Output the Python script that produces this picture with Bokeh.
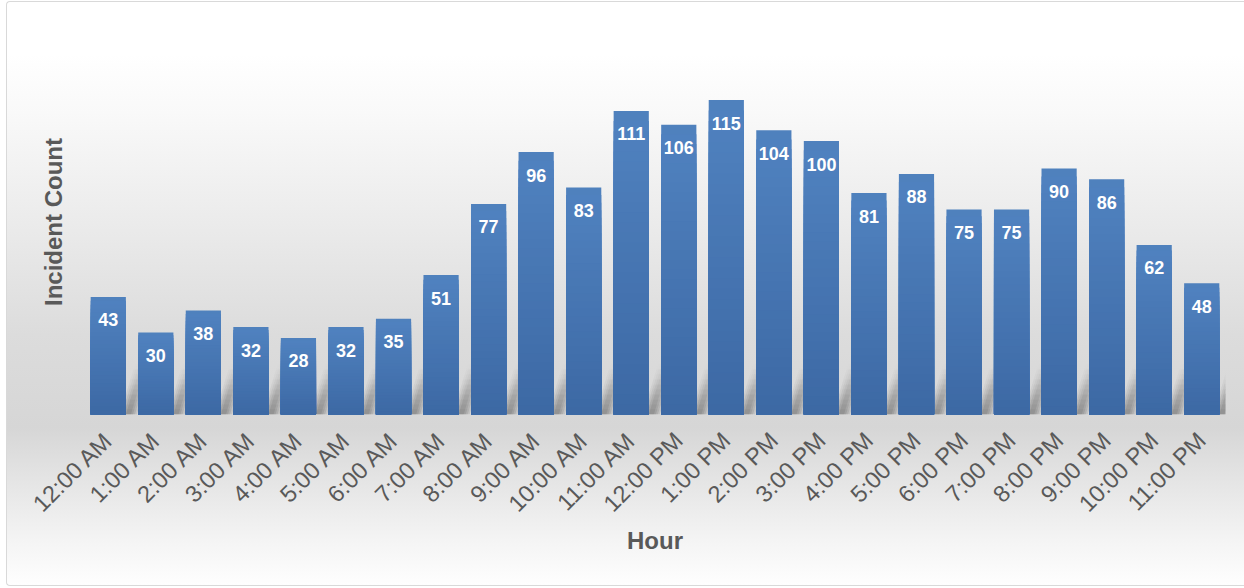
import numpy as np
from bokeh.plotting import figure
from bokeh.models import ColumnDataSource, FixedTicker, Range1d
from bokeh.core.properties import value
from bokeh.embed import file_html
from bokeh.resources import INLINE

# Incidents by hour of day
hours = ["12:00 AM", "1:00 AM", "2:00 AM", "3:00 AM", "4:00 AM", "5:00 AM",
         "6:00 AM", "7:00 AM", "8:00 AM", "9:00 AM", "10:00 AM", "11:00 AM",
         "12:00 PM", "1:00 PM", "2:00 PM", "3:00 PM", "4:00 PM", "5:00 PM",
         "6:00 PM", "7:00 PM", "8:00 PM", "9:00 PM", "10:00 PM", "11:00 PM"]
incidents = [43, 30, 38, 32, 28, 32, 35, 51, 77, 96, 83, 111,
             106, 115, 104, 100, 81, 88, 75, 75, 90, 86, 62, 48]

FONT = "Liberation Sans"
TEXT_GREY = "#595959"
BAR_TOP = np.array([80, 130, 192])
BAR_BOTTOM = np.array([60, 104, 163])
BAR_WIDTH = 0.74
Y_MAX = 140.8

idx = list(range(len(hours)))

p = figure(
    width=1238, height=585,
    x_range=Range1d(-0.5, len(hours) - 0.5),
    y_range=Range1d(0, Y_MAX),
    output_backend="svg", toolbar_location=None,
    min_border_left=77, min_border_right=20,
    min_border_top=27, min_border_bottom=173,
    styles={
        "background": "linear-gradient(to bottom, #ffffff 0%, #ffffff 9%, "
                      "#f9f9f9 19%, #ebebeb 38%, #dcdcdc 57%, #d6d6d6 73%, "
                      "#e6e6e6 83%, #f5f5f5 93%, #fefefe 100%)",
        "border": "1px solid #d9d9d9",
        "border-right": "none",
        "border-radius": "4px 0 0 4px",
        "margin-left": "6px",
        "margin-top": "1px",
        "box-sizing": "border-box",
    },
)
p.background_fill_alpha = 0
p.border_fill_alpha = 0
p.outline_line_color = None
p.xgrid.grid_line_color = None
p.ygrid.grid_line_color = None

# soft perspective shadows: a diagonal streak off each bar's right edge,
# fading with height and widened in layers to look blurred
px_x = 1.0 / 47.5
px_y = 1.0 / 2.728
SLOPE = 0.3
for layer in range(4):
    e = layer * 2.0
    for seg in range(10):
        y0 = seg * 5.0
        y1 = y0 + 5.0
        alpha = 0.15 * (1 - seg / 10.0) ** 1.2
        xs_l, ys_l = [], []
        for i in idx:
            r = i + BAR_WIDTH / 2
            xs_l.append([r + (-e + SLOPE * y0) * px_x,
                         r + (5 + e + SLOPE * y0) * px_x,
                         r + (5 + e + SLOPE * y1) * px_x,
                         r + (-e + SLOPE * y1) * px_x])
            ys_l.append([y0 * px_y, y0 * px_y, y1 * px_y, y1 * px_y])
        p.patches(xs_l, ys_l, fill_color="#4a4a4a", fill_alpha=alpha,
                  line_color=None)

# bars: full-value bar, then stacked overlays that shade toward the base
p.vbar(x=idx, top=incidents, width=BAR_WIDTH, fill_color="#4f81bd",
       line_color=None)
N = 30
sx, stop, scol = [], [], []
for k in range(1, N):
    frac = 1 - k / N
    c = BAR_BOTTOM + (BAR_TOP - BAR_BOTTOM) * frac
    col = "#%02x%02x%02x" % tuple(int(round(v)) for v in c)
    for i, v in zip(idx, incidents):
        sx.append(i)
        stop.append(v * frac)
        scol.append(col)
p.vbar(x="x", top="top", width=BAR_WIDTH, fill_color="c", line_color=None,
       source=ColumnDataSource(dict(x=sx, top=stop, c=scol)))

# value labels inside the top of each bar
p.text(x=idx, y=incidents, text=[str(v) for v in incidents],
       text_align="center", text_baseline="middle", y_offset=23,
       text_color="white", text_font=value(FONT), text_font_style="bold",
       text_font_size="18px")

xa = p.xaxis[0]
xa.ticker = FixedTicker(ticks=idx)
xa.major_label_overrides = {i: h for i, h in zip(idx, hours)}
xa.major_label_orientation = np.pi / 4
xa.major_label_text_font = FONT
xa.major_label_text_font_size = "23.5px"
xa.major_label_text_color = TEXT_GREY
xa.major_label_standoff = 16
xa.major_tick_line_color = None
xa.minor_tick_line_color = None
xa.axis_line_color = None
xa.axis_label = "Hour"
xa.axis_label_text_font = FONT
xa.axis_label_text_font_size = "24px"
xa.axis_label_text_font_style = "bold"
xa.axis_label_text_color = TEXT_GREY
xa.axis_label_standoff = -2

ya = p.yaxis[0]
ya.ticker = FixedTicker(ticks=[])
ya.major_label_text_font_size = "0px"
ya.major_tick_line_color = None
ya.minor_tick_line_color = None
ya.axis_line_color = None
ya.axis_label = "Incident Count"
ya.axis_label_text_font = FONT
ya.axis_label_text_font_size = "24px"
ya.axis_label_text_font_style = "bold"
ya.axis_label_text_color = TEXT_GREY
ya.axis_label_standoff = 18

open("out.html", "w").write(file_html(p, INLINE))
